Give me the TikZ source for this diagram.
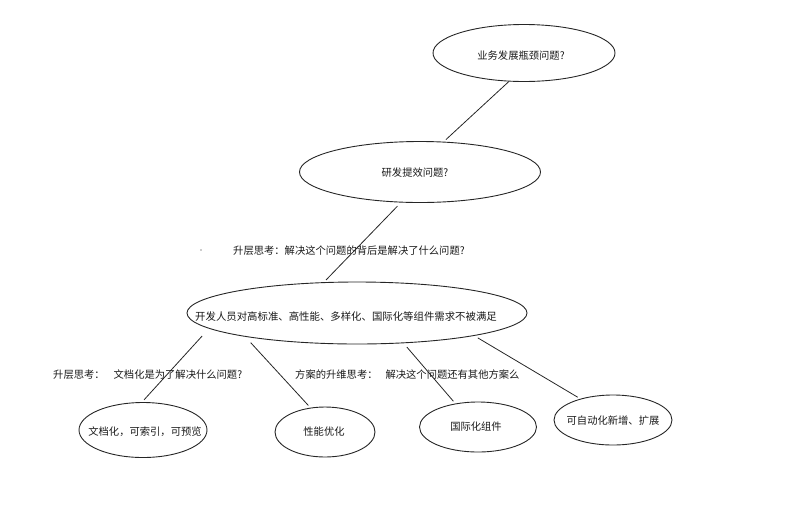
\documentclass[tikz,border=0pt]{standalone}
\usepackage{fontspec}
\setmainfont{Noto Sans CJK SC}
\usepackage{tikz}
\usetikzlibrary{shapes.geometric}

\tikzset{
  bubble/.style={ellipse, draw=black!85, line width=0.9pt, inner sep=0pt},
  link/.style={draw=black!85, line width=0.8pt, shorten >=3pt},
  txt/.style={inner sep=0pt, text=black!90, font=\fontsize{10.3}{12}\selectfont},
  note/.style={txt, anchor=west}
}

\begin{document}
\begin{tikzpicture}[x=1pt,y=-1pt]
\useasboundingbox (0,0) rectangle (800,507);

% bubbles
\node[bubble, minimum width=182pt, minimum height=57pt] (biz) at (524,53) {};
\node[bubble, minimum width=241pt, minimum height=61pt] (rd) at (420,172) {};
\node[bubble, minimum width=340pt, minimum height=62pt] (need) at (357,313) {};
\node[bubble, minimum width=128pt, minimum height=55pt] (doc) at (143,430) {};
\node[bubble, minimum width=100pt, minimum height=50pt] (perf) at (325,432) {};
\node[bubble, minimum width=117pt, minimum height=50pt] (intl) at (478,427) {};
\node[bubble, minimum width=118pt, minimum height=50pt] (auto) at (613,420) {};

\node[txt] (biz-t) at (521,56) {业务发展瓶颈问题?};
\node[txt] (rd-t) at (415,173) {研发提效问题?};
\node[txt, font=\fontsize{10.4}{12}\selectfont] (need-t) at (346,317) {开发人员对高标准、高性能、多样化、国际化等组件需求不被满足};
\node[txt] (doc-t) at (145,432) {文档化，可索引，可预览};
\node[txt] (perf-t) at (324,432) {性能优化};
\node[txt] (intl-t) at (476,427) {国际化组件};
\node[txt] (auto-t) at (613,421) {可自动化新增、扩展};

% links
\draw[link] (biz.242) -- (rd.52);
\draw[link, shorten <=5pt] (rd.238) -- (need.137);
\draw[link, shorten <=10pt] (need.186.6) -- (doc.92);
\draw[link, shorten <=8pt] (need.192.6) -- (perf.121);
\draw[link, shorten <=5pt] (need.327) -- (intl.134);
\draw[link, shorten <=4pt] (need.349) -- (auto.147);

% notes
\node[note] (up1) at (233,251) {升层思考：解决这个问题的背后是解决了什么问题?};
\node[note] (up2) at (53,375) {升层思考：\hspace{9pt}文档化是为了解决什么问题?};
\node[note] (plan) at (295,375) {方案的升维思考：\hspace{8pt}解决这个问题还有其他方案么};

\fill[black!40] (201,250) circle (0.8pt);
\end{tikzpicture}
\end{document}
